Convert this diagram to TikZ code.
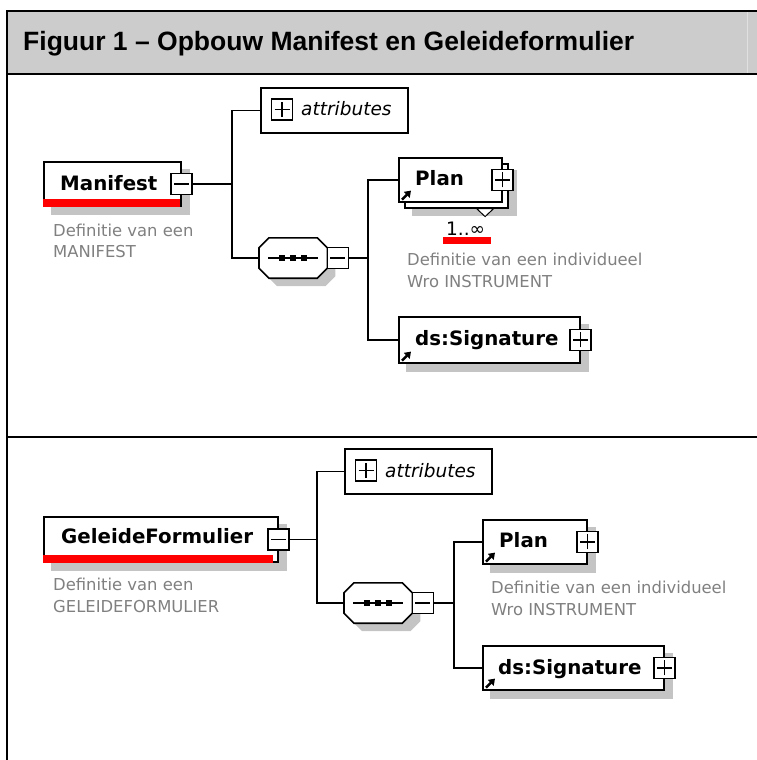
\documentclass[tikz,border=0pt]{standalone}
\usepackage{fontspec}
\setmainfont{DejaVu Sans}
\newfontfamily\titlefont{Liberation Sans}
\usetikzlibrary{arrows.meta,calc}
\pgfdeclarelayer{background}
\pgfsetlayers{background,main}
\definecolor{hdrgray}{HTML}{CCCCCC}
\definecolor{shdgray}{HTML}{C4C4C4}
\definecolor{descgray}{HTML}{808080}
\definecolor{xred}{HTML}{FF0000}
\tikzset{
  elbox/.style={draw=black, line width=1.6pt, fill=white, inner sep=0pt, anchor=north west},
  pmbox/.style={draw=black, line width=1.4pt, fill=white, minimum size=21pt, inner sep=0pt},
  plusbox/.style={pmbox, path picture={\draw[line width=1.4pt]
      ([xshift=-7.5pt]path picture bounding box.center) -- ([xshift=7.5pt]path picture bounding box.center)
      ([yshift=-7.5pt]path picture bounding box.center) -- ([yshift=7.5pt]path picture bounding box.center);}},
  minusbox/.style={pmbox, path picture={\draw[line width=1.4pt]
      ([xshift=-7.5pt]path picture bounding box.center) -- ([xshift=7.5pt]path picture bounding box.center);}},
  seqbox/.style={draw=none, minimum width=68pt, minimum height=40pt, inner sep=0pt, anchor=west},
  octa/.style n args={3}{insert path={
      ($(#1.north west)+(10+#2,#3)$) -- ($(#1.north east)+(-10+#2,#3)$) --
      ($(#1.north east)+(#2,10+#3)$) -- ($(#1.south east)+(#2,-10+#3)$) --
      ($(#1.south east)+(-10+#2,#3)$) -- ($(#1.south west)+(10+#2,#3)$) --
      ($(#1.south west)+(#2,-10+#3)$) -- ($(#1.north west)+(#2,10+#3)$) -- cycle}},
  octline/.style={draw=black, line width=1.6pt, fill=white},
  lbl/.style={anchor=base west, inner sep=0pt, font=\fontsize{19.8}{22}\selectfont\bfseries},
  attlbl/.style={anchor=base west, inner sep=0pt, font=\fontsize{18.5}{22}\selectfont\itshape},
  desc/.style={anchor=base west, inner sep=0pt, text=descgray, font=\fontsize{16.4}{20}\selectfont},
  conn/.style={draw=black, line width=1.6pt},
  refarrow/.style={line width=2.6pt, -{Triangle[length=6pt,width=8pt]}},
}
\begin{document}
\begin{tikzpicture}[x=1pt,y=-1pt]
\useasboundingbox (0,0) rectangle (757,760);
% header and frame
\fill[hdrgray] (7,11) rectangle (757,74);
\draw[color=white!88!black, line width=0.8pt] (747,12) -- (747,73);
\draw[line width=2pt] (757,11) -- (7,11) -- (7,760);
\draw[line width=2pt] (7,74) -- (757,74);
\draw[line width=2pt] (7,437) -- (757,437);
\node[anchor=base west, inner sep=0pt, font=\titlefont\fontsize{26.5}{30}\selectfont\bfseries] (title) at (23,51) {Figuur 1 – Opbouw Manifest en Geleideformulier};

% ================= upper: Manifest =================
\node[elbox, minimum width=137pt, minimum height=44pt] (man) at (43,161) {};
\fill[xred] (man.south west) rectangle ($(man.south east)+(-2,-8)$);
\node[minusbox] (manm) at (man.east) {};
\node[lbl] (mant) at (60,190) {Manifest};
\node[desc] (mand1) at (53,236) {Definitie van een};
\node[desc] (mand2) at (53,257) {MANIFEST};

\node[elbox, minimum width=147pt, minimum height=45pt] (att) at (260,87) {};
\node[plusbox] (attp) at (282,109.5) {};
\node[attlbl] (attt) at (301,115) {attributes};

\node[seqbox] (seq) at (259,258) {};
\path[octline, octa={seq}{0}{0}];
\draw[line width=1.5pt] ($(seq.center)+(-25,0)$) -- ($(seq.center)+(25,0)$);
\foreach \dx in {-11,0,11} \fill ($(seq.center)+(\dx-3,-3)$) rectangle ($(seq.center)+(\dx+3,3)$);
\node[minusbox] (seqm) at ($(seq.east)+(10.5,0)$) {};

\node[elbox, minimum width=103pt, minimum height=44pt] (planb) at (404,163) {};
\node[elbox, minimum width=103pt, minimum height=44pt] (plan) at (398,157) {};
\node[plusbox] (planp) at (plan.east) {};
\node[lbl] (plant) at (415,185) {Plan};
\draw[refarrow] ($(plan.south west)+(4,-3)$) -- ++(9,-9);
\draw[line width=1pt, fill=white] ($(planb.south east)+(-32,0)$) -- ($(planb.south east)+(-15,0)$) -- ($(planb.south east)+(-23.5,8)$) -- cycle;
\node[anchor=base west, inner sep=0pt, font=\fontsize{18.5}{20}\selectfont] (mult) at (446,235) {1..∞};
\fill[xred] (443,237) rectangle (491,244);
\node[desc] (pland1) at (407,265) {Definitie van een individueel};
\node[desc] (pland2) at (407,287) {Wro INSTRUMENT};

\node[elbox, minimum width=181pt, minimum height=46pt] (sig) at (398,316) {};
\node[plusbox] (sigp) at (sig.east) {};
\node[lbl] (sigt) at (415,345) {ds:Signature};
\draw[refarrow] ($(sig.south west)+(4,-3)$) -- ++(9,-9);

\coordinate (j1) at ($(manm.east)+(39,0)$);
\draw[conn] (manm.east) -- (j1);
\draw[conn] (att.west) -| (j1) |- (seq.west);
\coordinate (j2) at ($(seqm.east)+(19,0)$);
\draw[conn] (seqm.east) -- (j2);
\draw[conn] (plan.west) -| (j2) |- (sig.west);

% ================= lower: GeleideFormulier =================
\node[elbox, minimum width=234pt, minimum height=45pt] (gf) at (43,516) {};
\fill[xred] (gf.south west) rectangle ($(gf.south east)+(-6,-8)$);
\node[minusbox] (gfm) at (gf.east) {};
\node[lbl] (gft) at (61,543) {GeleideFormulier};
\node[desc] (gfd1) at (53,590) {Definitie van een};
\node[desc] (gfd2) at (53,612) {GELEIDEFORMULIER};

\node[elbox, minimum width=147pt, minimum height=45pt] (att2) at (344,448) {};
\node[plusbox] (att2p) at (366,470.5) {};
\node[attlbl] (att2t) at (385,477) {attributes};

\node[seqbox] (seq2) at (344,603) {};
\path[octline, octa={seq2}{0}{0}];
\draw[line width=1.5pt] ($(seq2.center)+(-25,0)$) -- ($(seq2.center)+(25,0)$);
\foreach \dx in {-11,0,11} \fill ($(seq2.center)+(\dx-3,-3)$) rectangle ($(seq2.center)+(\dx+3,3)$);
\node[minusbox] (seq2m) at ($(seq2.east)+(10.5,0)$) {};

\node[elbox, minimum width=104pt, minimum height=44pt] (plan2) at (482,519) {};
\node[plusbox] (plan2p) at (plan2.east) {};
\node[lbl] (plan2t) at (499,547) {Plan};
\draw[refarrow] ($(plan2.south west)+(4,-3)$) -- ++(9,-9);
\node[desc] (plan2d1) at (491,593) {Definitie van een individueel};
\node[desc] (plan2d2) at (491,615) {Wro INSTRUMENT};

\node[elbox, minimum width=181pt, minimum height=44pt] (sig2) at (482,645) {};
\node[plusbox] (sig2p) at (sig2.east) {};
\node[lbl] (sig2t) at (498,674) {ds:Signature};
\draw[refarrow] ($(sig2.south west)+(4,-3)$) -- ++(9,-9);

\coordinate (j3) at ($(gfm.east)+(27,0)$);
\draw[conn] (gfm.east) -- (j3);
\draw[conn] (att2.west) -| (j3) |- (seq2.west);
\coordinate (j4) at ($(seq2m.east)+(20,0)$);
\draw[conn] (seq2m.east) -- (j4);
\draw[conn] (plan2.west) -| (j4) |- (sig2.west);

% ================= shadows =================
\begin{pgfonlayer}{background}
\fill[shdgray] ($(man.north west)+(8,8)$) rectangle ($(man.south east)+(8,8)$);
\path[fill=shdgray, octa={seq}{8}{8}];
\fill[shdgray] ($(planb.north west)+(8,7)$) rectangle ($(planb.south east)+(8,7)$);
\fill[shdgray] ($(sig.north west)+(8,8)$) rectangle ($(sig.south east)+(8,8)$);
\fill[shdgray] ($(gf.north west)+(8,8)$) rectangle ($(gf.south east)+(8,8)$);
\path[fill=shdgray, octa={seq2}{8}{8}];
\fill[shdgray] ($(plan2.north west)+(8,8)$) rectangle ($(plan2.south east)+(8,8)$);
\fill[shdgray] ($(sig2.north west)+(8,8)$) rectangle ($(sig2.south east)+(8,8)$);
\end{pgfonlayer}
\end{tikzpicture}
\end{document}
